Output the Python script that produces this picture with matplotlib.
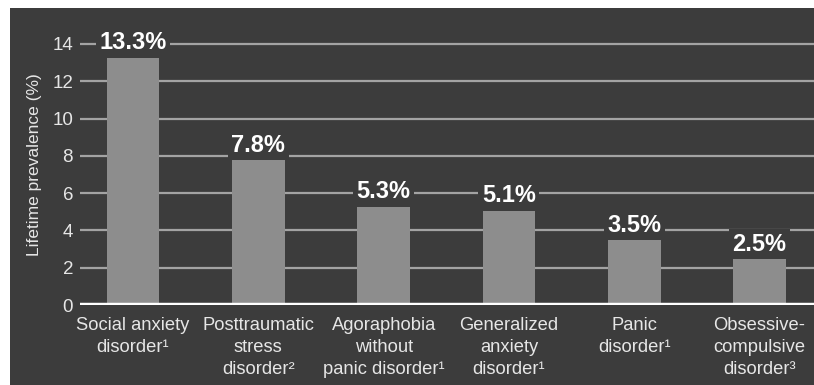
import matplotlib.pyplot as plt
from matplotlib.patches import Rectangle

categories = ["Social anxiety\ndisorder¹", "Posttraumatic\nstress\ndisorder²",
              "Agoraphobia\nwithout\npanic disorder¹", "Generalized\nanxiety\ndisorder¹",
              "Panic\ndisorder¹", "Obsessive-\ncompulsive\ndisorder³"]
prevalence = [13.3, 7.8, 5.3, 5.1, 3.5, 2.5]
yticks = [0, 2, 4, 6, 8, 10, 12, 14]

BG = "#3c3c3c"
BAR = "#8d8d8d"
GRID = "#a3a3a3"
TXT = "#e6e6e6"

plt.rcParams['font.family'] = ['Liberation Sans', 'DejaVu Sans']

W, H = 814, 385
fig = plt.figure(figsize=(W / 100, H / 100), dpi=100, facecolor="white")
# dark panel with a thin white margin on the top and left
fig.patches.append(Rectangle((10 / W, 0), 1, (H - 8) / H, transform=fig.transFigure,
                             facecolor=BG, edgecolor="none", zorder=-10))

ax = fig.add_axes([80 / W, (H - 305) / H, 1 - 80 / W, 276 / H])
ax.set_facecolor("none")

x = list(range(len(categories)))
ax.bar(x, prevalence, width=0.42, color=BAR, zorder=3)

for t in yticks[1:]:
    ax.axhline(t, color=GRID, linewidth=1.6, zorder=1)
ax.axhline(0, color="white", linewidth=3.2, zorder=4)

for xi, v in zip(x, prevalence):
    ax.annotate(f"{v}%", (xi, v), xytext=(0, 2), textcoords="offset points",
                ha="center", va="bottom", fontsize=17, fontweight="bold", color="white",
                bbox=dict(facecolor=BG, edgecolor="none", pad=2.5), zorder=5)

ax.set_xlim(-0.423, 5.435)
ax.set_ylim(0, 14.8)
ax.set_yticks(yticks)
ax.set_xticks(x)
ax.set_xticklabels(categories, fontsize=13.2, color=TXT, linespacing=1.38)
ax.tick_params(axis="y", length=0, pad=5, labelsize=13.5, labelcolor=TXT)
ax.tick_params(axis="x", length=0, pad=9)
for s in ax.spines.values():
    s.set_visible(False)

ax.set_ylabel("Lifetime prevalence (%)", fontsize=12.5, color=TXT)
ax.yaxis.set_label_coords(-0.052, 0.51)

fig.savefig("out.png", dpi=100, facecolor="white")
